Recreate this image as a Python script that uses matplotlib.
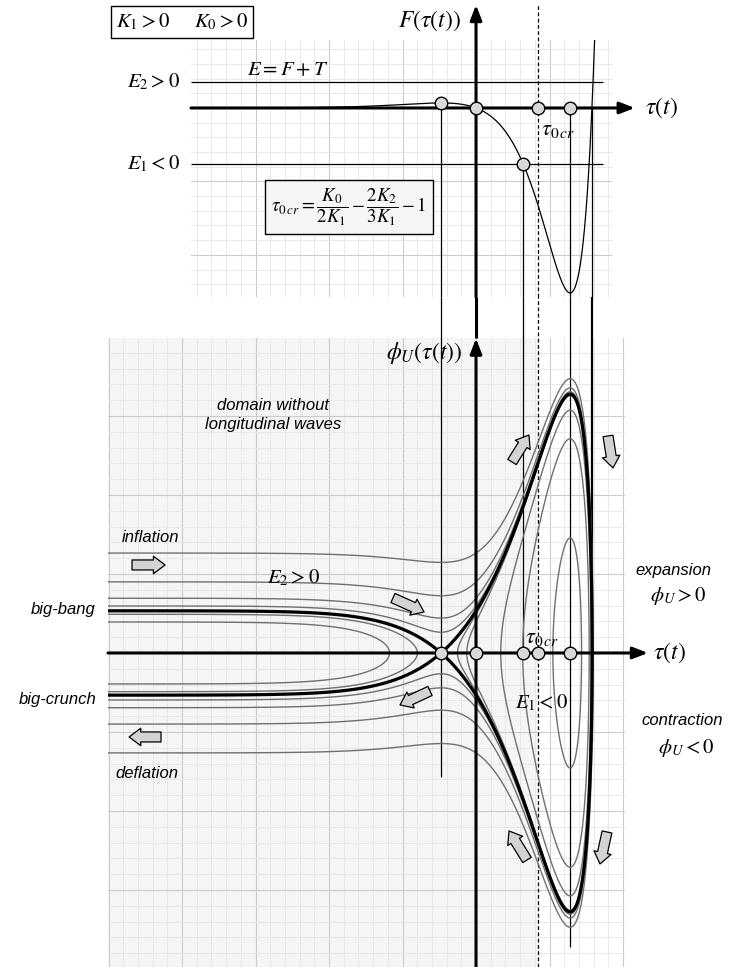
import numpy as np
import matplotlib
matplotlib.use("Agg")
from matplotlib import pyplot as plt

plt.rcParams['mathtext.fontset'] = 'stix'
plt.rcParams['font.family'] = ['Liberation Sans', 'DejaVu Sans']

# potential F(tau) = exp(k*tau) * tau * (tau - tau_zero), shape
k_exp = 2.589
tau_zero = 1.577
tau_e1 = 0.64      # left turning point of the E1 orbit
tau_0cr = 0.84     # critical tau (dashed line)

# energy levels E = F + phi^2 of the phase portrait
levels_open = [0.154, 0.24, 0.354, 0.48, 0.81, 1.60]
levels_well = [-8.33, -3.1, -1.0]
E2 = 1.47

# visible ranges (tau, F) top and (tau, phi) bottom
top_xlim = (-3.878, 1.850)
top_ylim = (-10.68, 3.84)
bot_xlim = (-5.007, 2.027)
bot_ylim = (-3.975, 3.987)


def F(t):
    return np.exp(k_exp * t) * t * (t - tau_zero)


# stationary points of F
tau_max, tau_min = np.sort(np.roots([k_exp, 2 - k_exp * tau_zero, -tau_zero]).real)
E_sep = F(tau_max)
E1 = F(tau_e1)


def setup_grid(ax, xmaj, xmin, ymaj, ymin):
    ax.set_xticks(xmaj)
    ax.set_xticks(xmin, minor=True)
    ax.set_yticks(ymaj)
    ax.set_yticks(ymin, minor=True)
    ax.grid(which='major', color='#cbcbcb', lw=0.8)
    ax.grid(which='minor', color='#e5e5e5', lw=0.6)
    ax.tick_params(which='both', length=0, labelbottom=False, labelleft=False)
    for s in ax.spines.values():
        s.set_visible(False)
    ax.set_axisbelow(True)


def axis_arrow(ax, start, end):
    ax.annotate('', xy=end, xytext=start,
                arrowprops=dict(arrowstyle='-|>,head_length=0.9,head_width=0.35',
                                color='black', lw=2.2, shrinkA=0, shrinkB=0),
                annotation_clip=False, zorder=4)


def block_arrow(ax, tail, head):
    ax.annotate('', xy=head, xytext=tail,
                arrowprops=dict(arrowstyle='simple,head_length=0.7,head_width=1.05,tail_width=0.6',
                                fc='#d3d3d3', ec='black', lw=0.9, shrinkA=0, shrinkB=0,
                                mutation_scale=12),
                zorder=6)


def dots(ax, xs, ys):
    ax.plot(xs, ys, 'o', ms=9, mfc='#d9d9d9', mec='black', mew=1.0, zorder=7, clip_on=False)


W, H = 729, 967
fig = plt.figure(figsize=(7.29, 9.67), dpi=100)
ax1 = fig.add_axes([191 / W, 1 - 297 / H, 421 / W, 257 / H])
ax2 = fig.add_axes([108 / W, 0, 517 / W, 629 / H])

# ---------- top panel: F(tau) ----------
setup_grid(ax1, np.arange(-3, 2), np.arange(-19, 10) * 0.2,
           np.arange(-2, 1) * 4.15, np.arange(-13, 5) * 0.83)
ax1.set_xlim(*top_xlim)
ax1.set_ylim(*top_ylim)

tt = np.linspace(top_xlim[0], 1.75, 1500)
ax1.plot(tt, F(tt), color='black', lw=0.9, zorder=3)
ax1.hlines([E2, E1], top_xlim[0], 1.728, color='black', lw=0.9, zorder=2)

axis_arrow(ax1, (top_xlim[0], 0), (2.16, 0))
axis_arrow(ax1, (0, top_ylim[0]), (0, 5.82))

# ---------- bottom panel: phase portrait ----------
setup_grid(ax2, np.arange(-5, 3), np.arange(-25, 11) * 0.2,
           np.arange(-4, 5), np.arange(-20, 21) * 0.2)
ax2.set_xlim(*bot_xlim)
ax2.set_ylim(*bot_ylim)
ax2.axvspan(bot_xlim[0], tau_0cr, color='#f5f5f5', zorder=0.1, lw=0)

tg = np.linspace(-5.1, 2.1, 1400)
pg = np.linspace(-4.1, 4.1, 1000)
TT, PP = np.meshgrid(tg, pg)
EE = F(TT) + PP ** 2
ax2.contour(TT, PP, EE, levels=sorted(levels_well + levels_open),
            colors='#707070', linewidths=1.0, linestyles='solid', zorder=3)
ax2.contour(TT, PP, EE, levels=[E_sep], colors='black', linewidths=2.3,
            linestyles='solid', zorder=4)

axis_arrow(ax2, (bot_xlim[0], 0), (2.34, 0))
axis_arrow(ax2, (0, bot_ylim[0]), (0, 3.98))

# ---------- vertical guide lines through both panels ----------
y_disp = ax1.transAxes.transform((0, 0))[1]
phi_gap = ax2.transData.inverted().transform((0, y_disp))[1]

ax1.vlines(tau_max, top_ylim[0], E_sep, color='black', lw=0.9, clip_on=False)
ax1.vlines(tau_e1, top_ylim[0], E1, color='black', lw=0.9, clip_on=False)
ax1.vlines([tau_min, tau_zero], top_ylim[0], 0, color='black', lw=0.9, clip_on=False)
ax1.vlines(tau_0cr, top_ylim[0], 5.82, color='black', lw=0.9, linestyles=(0, (3, 2)), clip_on=False)

ax2.vlines(tau_max, -1.57, phi_gap, color='black', lw=0.9, clip_on=False, zorder=2)
ax2.vlines(tau_e1, 0, phi_gap, color='black', lw=0.9, clip_on=False, zorder=2)
ax2.vlines(tau_min, -3.72, phi_gap, color='black', lw=0.9, clip_on=False, zorder=2)
ax2.vlines(tau_zero, -1.13, phi_gap, color='black', lw=1.6, clip_on=False, zorder=2)
ax2.vlines(tau_0cr, bot_ylim[0], phi_gap, color='black', lw=0.9,
           linestyles=(0, (3, 2)), clip_on=False, zorder=2)
ax2.vlines(0, bot_ylim[1], phi_gap, color='black', lw=2.2, clip_on=False, zorder=4)

dots(ax1, [tau_max, 0, tau_e1, tau_0cr, tau_min], [E_sep, 0, E1, 0, 0])
dots(ax2, [tau_max, 0, tau_e1, tau_0cr, tau_min], [0, 0, 0, 0, 0])

# ---------- labels top ----------
ax1.text(-4.0, 4.86, r'$K_1>0\quad\ \ K_0>0$', fontsize=15, ha='center', va='center',
         bbox=dict(boxstyle='square,pad=0.25', fc='white', ec='black', lw=1))
ax1.text(-0.63, 4.9, r'$F\left(\tau(t)\right)$', fontsize=17, ha='center', va='center')
ax1.text(2.30, 0, r'$\tau(t)$', fontsize=17, ha='left', va='center')
ax1.text(-4.03, E2, r'$E_2>0$', fontsize=15, ha='right', va='center')
ax1.text(-4.03, E1, r'$E_1<0$', fontsize=15, ha='right', va='center')
ax1.text(-3.12, 2.15, r'$E=F+T$', fontsize=15, ha='left', va='center')
ax1.text(0.88, -1.2, r'$\tau_{0\,cr}$', fontsize=16, ha='left', va='center')
ax1.text(-1.73, -5.59, r'$\tau_{0\,cr}=\dfrac{K_0}{2K_1}-\dfrac{2K_2}{3K_1}-1$', fontsize=13.5,
         ha='center', va='center',
         bbox=dict(boxstyle='square,pad=0.35', fc='#f5f5f5', ec='black', lw=1))

# ---------- labels bottom ----------
ax2.text(-0.18, 3.80, r'$\phi_U\left(\tau(t)\right)$', fontsize=17, ha='right', va='center')
ax2.text(2.41, 0, r'$\tau(t)$', fontsize=17, ha='left', va='center')
ax2.text(0.667, 0.2, r'$\tau_{0\,cr}$', fontsize=16, ha='left', va='center')
ax2.text(0.53, -0.63, r'$E_1<0$', fontsize=15, ha='left', va='center')
ax2.text(-2.84, 0.95, r'$E_2>0$', fontsize=15, ha='left', va='center')
ax2.text(-2.76, 3.01, 'domain without\nlongitudinal waves', fontsize=12, style='italic',
         ha='center', va='center', linespacing=1.3)
ax2.text(-4.82, 1.456, 'inflation', fontsize=12, style='italic', ha='left', va='center')
ax2.text(-4.91, -1.53, 'deflation', fontsize=12, style='italic', ha='left', va='center')
ax2.text(-5.18, 0.544, 'big-bang', fontsize=12, style='italic', ha='right', va='center')
ax2.text(-5.16, -0.595, 'big-crunch', fontsize=12, style='italic', ha='right', va='center')
ax2.text(2.68, 1.05, 'expansion', fontsize=12, style='italic', ha='center', va='center')
ax2.text(2.75, 0.72, r'$\phi_U>0$', fontsize=15, ha='center', va='center')
ax2.text(2.80, -0.85, 'contraction', fontsize=12, style='italic', ha='center', va='center')
ax2.text(2.86, -1.20, r'$\phi_U<0$', fontsize=15, ha='center', va='center')

# flow arrows
block_arrow(ax2, (-4.68, 1.114), (-4.23, 1.114))
block_arrow(ax2, (-1.13, 0.696), (-0.707, 0.519))
block_arrow(ax2, (-4.286, -1.063), (-4.72, -1.063))
block_arrow(ax2, (-0.626, -0.481), (-1.034, -0.658))
block_arrow(ax2, (0.49, 2.418), (0.72, 2.759))
block_arrow(ax2, (1.796, 2.747), (1.864, 2.342))
block_arrow(ax2, (0.694, -2.62), (0.449, -2.253))
block_arrow(ax2, (1.782, -2.266), (1.687, -2.671))

fig.savefig('out.png', dpi=100)
